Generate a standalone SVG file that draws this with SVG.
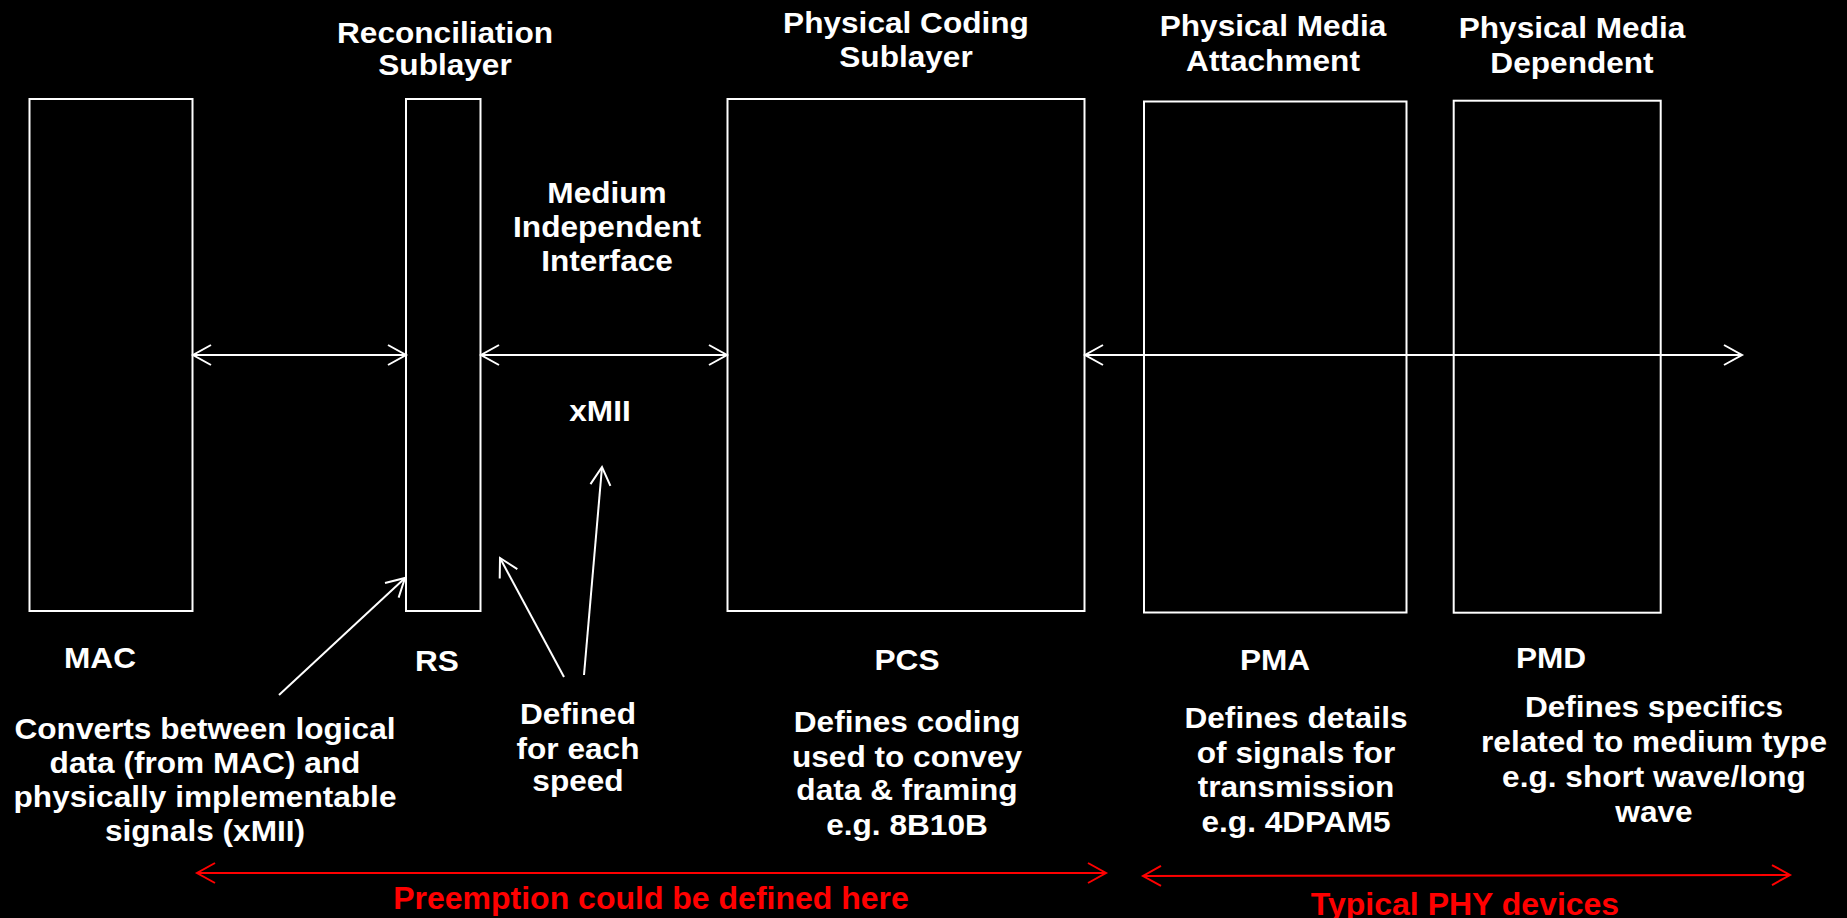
<svg xmlns="http://www.w3.org/2000/svg" width="1847" height="918" viewBox="0 0 1847 918">
<style>
.bg{fill:#000}
.box{fill:none;stroke:#fff;stroke-width:2}
.t{font-family:"Liberation Sans",Arial,sans-serif;font-weight:bold;font-size:29px;fill:#fff;text-anchor:middle}
.r{font-family:"Liberation Sans",Arial,sans-serif;font-weight:bold;font-size:32px;fill:#f00;text-anchor:middle}
.w{stroke:#fff;stroke-width:2;fill:none}
.rl{stroke:#f00;stroke-width:2;fill:none}
</style>
<defs>
<marker id="aw" viewBox="-20 -12 22 24" refX="0" refY="0" markerWidth="22" markerHeight="24" markerUnits="userSpaceOnUse" orient="auto-start-reverse" overflow="visible">
<path d="M-18,-10 L0,0 L-18,10" fill="none" stroke="#fff" stroke-width="2"/>
</marker>
<marker id="ar" viewBox="-20 -12 22 24" refX="0" refY="0" markerWidth="22" markerHeight="24" markerUnits="userSpaceOnUse" orient="auto-start-reverse" overflow="visible">
<path d="M-18,-10 L0,0 L-18,10" fill="none" stroke="#f00" stroke-width="2"/>
</marker>
</defs>
<rect class="bg" x="0" y="0" width="1847" height="918"/>

<g id="mac">
<rect class="box" x="29.5" y="99" width="163" height="512"/>
<text class="t" transform="translate(100 0) scale(1.09 1)" x="0" y="668">MAC</text>
<text class="t" transform="translate(205 0) scale(1.09 1)"><tspan x="0" y="739">Converts between logical</tspan><tspan x="0" y="773">data (from MAC) and</tspan><tspan x="0" y="807">physically implementable</tspan><tspan x="0" y="841">signals (xMII)</tspan></text>
</g>

<g id="rs">
<rect class="box" x="406" y="99" width="74.5" height="512"/>
<text class="t" transform="translate(445 0) scale(1.09 1)"><tspan x="0" y="43">Reconciliation</tspan><tspan x="0" y="75">Sublayer</tspan></text>
<text class="t" transform="translate(437 0) scale(1.09 1)" x="0" y="671">RS</text>
</g>

<g id="mii">
<text class="t" transform="translate(607 0) scale(1.09 1)"><tspan x="0" y="203">Medium</tspan><tspan x="0" y="237">Independent</tspan><tspan x="0" y="271">Interface</tspan></text>
<text class="t" transform="translate(600 0) scale(1.09 1)" x="0" y="421">xMII</text>
<text class="t" transform="translate(578 0) scale(1.09 1)"><tspan x="0" y="724">Defined</tspan><tspan x="0" y="759">for each</tspan><tspan x="0" y="791">speed</tspan></text>
</g>

<g id="pcs">
<rect class="box" x="727.5" y="99" width="357" height="512"/>
<text class="t" transform="translate(906 0) scale(1.09 1)"><tspan x="0" y="33">Physical Coding</tspan><tspan x="0" y="67">Sublayer</tspan></text>
<text class="t" transform="translate(907 0) scale(1.09 1)" x="0" y="670">PCS</text>
<text class="t" transform="translate(907 0) scale(1.09 1)"><tspan x="0" y="732">Defines coding</tspan><tspan x="0" y="767">used to convey</tspan><tspan x="0" y="800">data &amp; framing</tspan><tspan x="0" y="835">e.g. 8B10B</tspan></text>
</g>

<g id="pma">
<rect class="box" x="1144" y="101.5" width="262.5" height="511"/>
<text class="t" transform="translate(1273 0) scale(1.09 1)"><tspan x="0" y="36">Physical Media</tspan><tspan x="0" y="71">Attachment</tspan></text>
<text class="t" transform="translate(1275 0) scale(1.09 1)" x="0" y="670">PMA</text>
<text class="t" transform="translate(1296 0) scale(1.09 1)"><tspan x="0" y="728">Defines details</tspan><tspan x="0" y="763">of signals for</tspan><tspan x="0" y="797">transmission</tspan><tspan x="0" y="832">e.g. 4DPAM5</tspan></text>
</g>

<g id="pmd">
<rect class="box" x="1453.7" y="100.7" width="207" height="512"/>
<text class="t" transform="translate(1572 0) scale(1.09 1)"><tspan x="0" y="38">Physical Media</tspan><tspan x="0" y="73">Dependent</tspan></text>
<text class="t" transform="translate(1551 0) scale(1.09 1)" x="0" y="668">PMD</text>
<text class="t" transform="translate(1654 0) scale(1.09 1)"><tspan x="0" y="717">Defines specifics</tspan><tspan x="0" y="752">related to medium type</tspan><tspan x="0" y="787">e.g. short wave/long</tspan><tspan x="0" y="822">wave</tspan></text>
</g>

<g id="ranges">
<text class="r" x="651" y="909">Preemption could be defined here</text>
<text class="r" x="1465" y="915">Typical PHY devices</text>
</g>

<g id="connectors">
<line class="w" x1="193" y1="355" x2="406" y2="355" marker-start="url(#aw)" marker-end="url(#aw)"/>
<line class="w" x1="481" y1="355" x2="727" y2="355" marker-start="url(#aw)" marker-end="url(#aw)"/>
<line class="w" x1="1085" y1="355" x2="1742" y2="355" marker-start="url(#aw)" marker-end="url(#aw)"/>
<line class="w" x1="279" y1="695" x2="405" y2="578" marker-end="url(#aw)"/>
<line class="w" x1="564" y1="677" x2="500" y2="558" marker-end="url(#aw)"/>
<line class="w" x1="584" y1="675" x2="602" y2="467" marker-end="url(#aw)"/>
<line class="rl" x1="197" y1="873" x2="1106" y2="873" marker-start="url(#ar)" marker-end="url(#ar)"/>
<line class="rl" x1="1143" y1="876" x2="1790" y2="875" marker-start="url(#ar)" marker-end="url(#ar)"/>
</g>
</svg>
